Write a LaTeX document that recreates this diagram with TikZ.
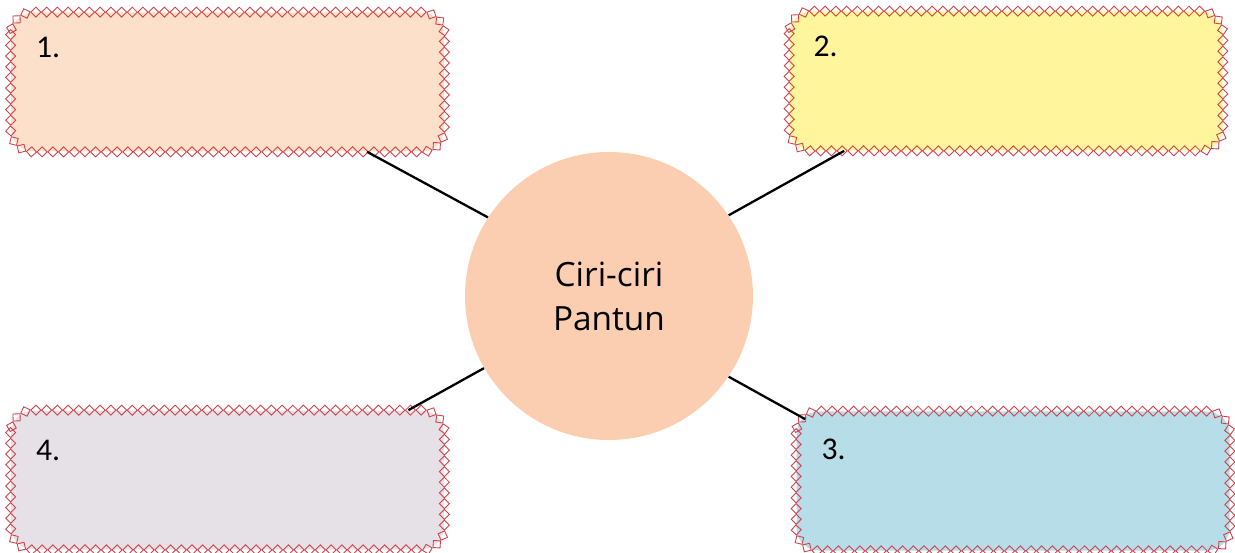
\documentclass[tikz,border=0pt]{standalone}
\usepackage{fontspec}
\setmainfont{Carlito}
\newfontfamily\titlefont{Open Sans}
\usepackage{tikz}
\usetikzlibrary{positioning}
\usetikzlibrary{calc}
\usetikzlibrary{decorations.markings}
\usepackage{xcolor}
\definecolor{stitch}{HTML}{D2414B}
\definecolor{peach}{HTML}{FDE0C9}
\definecolor{lemon}{HTML}{FFF59D}
\definecolor{lilac}{HTML}{E6E1E7}
\definecolor{sky}{HTML}{B6DDE8}
\definecolor{disc}{HTML}{FBCEB1}

\begin{document}
\begin{tikzpicture}[
    panel/.style={fill=#1, rounded corners=0.45cm, minimum width=8.66cm,
        minimum height=2.78cm, inner sep=0pt},
    rim/.style={rounded corners=0.45cm,
        decorate, decoration={markings,
            mark=between positions 0 and 1 step 0.214cm with
            {\draw[stitch, line width=0.5pt, sharp corners] (-0.1,0) -- (0,0.1) -- (0.1,0) -- (0,-0.1) -- cycle;}}},
    link/.style={line width=1.3pt},
    num/.style={anchor=west, inner sep=0pt, font=\fontsize{18}{20}\selectfont}
]
    \useasboundingbox (0,0) rectangle (24.7,-11.06);

    % Centre
    \node[circle, fill=disc, minimum size=5.76cm, inner sep=0pt, align=center,
        font=\titlefont\fontsize{19}{25}\selectfont] (c) at (12.18,-5.92) {Ciri-ciri\\Pantun};

    % Boxes
    \node[panel=peach] (b1) at (4.55,-1.64) {};
    \node[panel=lemon] (b2) at (20.12,-1.62) {};
    \node[panel=sky] (b3) at (20.26,-9.62) {};
    \node[panel=lilac] (b4) at (4.55,-9.6) {};
    \foreach \b in {b1,b2,b3,b4}
        \path[rim] (\b.north west) rectangle (\b.south east);

    % Numbers
    \node[num] (n1) at ([shift={(0.5,-0.7)}]b1.north west) {1.};
    \node[num] (n2) at ([shift={(0.48,-0.7)}]b2.north west) {2.};
    \node[num] (n3) at ([shift={(0.5,-0.76)}]b3.north west) {3.};
    \node[num] (n4) at ([shift={(0.5,-0.8)}]b4.north west) {4.};

    % Links
    \draw[link] (c.147.5) -- ($(b1.south west)!0.822!(b1.south east)$);
    \draw[link] (c.34) -- ($(b2.south west)!0.127!(b2.south east)$);
    \draw[link] (c.326.5) -- ([shift={(0.18,-0.16)}]b3.north west);
    \draw[link] (c.210) -- ($(b4.north west)!0.917!(b4.north east)$);
\end{tikzpicture}
\end{document}
